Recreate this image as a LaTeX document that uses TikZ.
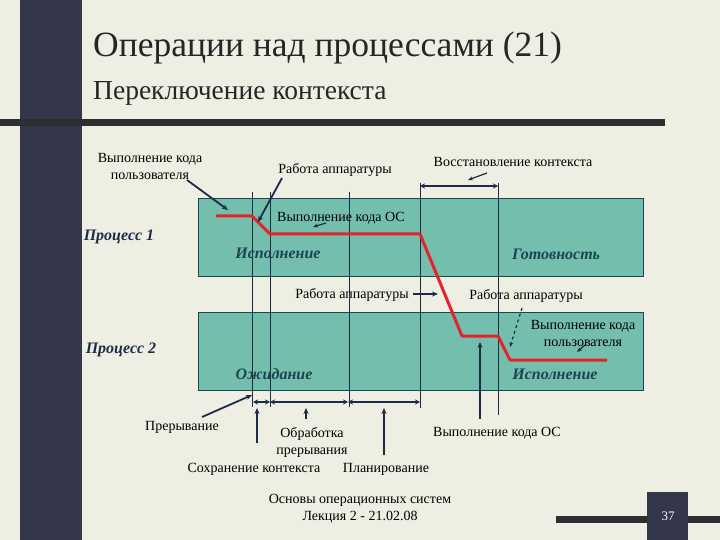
\documentclass[tikz,border=0pt]{standalone}
\usepackage{fontspec}
\setmainfont{Liberation Serif}
\usetikzlibrary{arrows.meta}
\definecolor{bg}{HTML}{EEEEE2}
\definecolor{barcol}{HTML}{34364C}
\definecolor{rulecol}{HTML}{2E2E30}
\definecolor{tealbox}{HTML}{74BEAE}
\definecolor{navy}{HTML}{1B2B48}
\definecolor{innertxt}{HTML}{1D4450}
\definecolor{redline}{HTML}{E3242B}
\begin{document}
\begin{tikzpicture}[x=1bp,y=-1bp,
  lbl/.style={font=\fontsize{14bp}{17bp}\selectfont, align=center, inner sep=0pt, text=black},
  proclbl/.style={font=\fontsize{16bp}{18bp}\selectfont\bfseries\itshape, text=navy, inner sep=0pt},
  statelbl/.style={font=\fontsize{16bp}{18bp}\selectfont\bfseries\itshape, text=innertxt, inner sep=0pt},
  procbox/.style={draw=innertxt, fill=tealbox, line width=0.8bp, minimum width=445bp, minimum height=78bp, anchor=north west, inner sep=0pt},
  vline/.style={draw=navy, line width=0.8bp},
  arr/.style={draw=navy, line width=1.8bp, -{Stealth[length=6bp,width=5bp]}},
  thinarr/.style={draw=navy, line width=1.2bp, -{Stealth[length=5bp,width=4bp]}},
  darr/.style={draw=navy, line width=2bp, {Stealth[length=5bp,width=5bp]}-{Stealth[length=5bp,width=5bp]}},
  redpath/.style={draw=redline, line width=3bp, line join=round}
]
\useasboundingbox (0,0) rectangle (720,540);
\fill[bg] (0,0) rectangle (720,540);
% decoration
\fill[barcol] (20,0) rectangle (82,540);
\fill[rulecol] (0,119) rectangle (665,126);
\fill[rulecol] (556,516) rectangle (720,523);
\fill[barcol] (647,492) rectangle (688,540);
\node[text=white, font=\fontsize{13bp}{15bp}\selectfont, inner sep=0pt] (num) at (668,516) {37};

% titles
\node[anchor=base west, inner sep=0pt, font=\fontsize{35.5bp}{40bp}\selectfont, text=black!85] (title) at (93,57) {Операции над процессами (21)};
\node[anchor=base west, inner sep=0pt, font=\fontsize{27.5bp}{30bp}\selectfont, text=black!85] (subtitle) at (93,100) {Переключение контекста};

% process boxes
\node[procbox] (box1) at (198,198) {};
\node[procbox] (box2) at (198,312) {};

% vertical lines
\coordinate (v1t) at (252,192); \coordinate (v1b) at (252,407);
\coordinate (v2t) at (270,192); \coordinate (v2b) at (270,407);
\coordinate (v3t) at (349,192); \coordinate (v3b) at (349,407);
\coordinate (v4t) at (420,183); \coordinate (v4b) at (420,408);
\coordinate (v5t) at (498,183); \coordinate (v5b) at (498,415);
\draw[vline] (v1t) -- (v1b);
\draw[vline] (v2t) -- (v2b);
\draw[vline] (v3t) -- (v3b);
\draw[vline] (v4t) -- (v4b);
\draw[vline] (v5t) -- (v5b);

% red path
\coordinate (r0) at (216,216);
\coordinate (r1) at (252,216);
\coordinate (r2) at (270,234);
\coordinate (r3) at (420,234);
\coordinate (r4) at (462,336);
\coordinate (r5) at (498,336);
\coordinate (r6) at (510,360);
\coordinate (r7) at (607,360);
\draw[redpath] (r0) -- (r1) -- (r2) -- (r3) -- (r4) -- (r5) -- (r6) -- (r7);

% labels
\node[lbl] (uc1) at (150,166) {Выполнение кода\\пользователя};
\node[lbl] (hw1) at (335,170) {Работа аппаратуры};
\node[lbl] (rc) at (513,162) {Восстановление контекста};
\node[lbl] (os1) at (341,218) {Выполнение кода ОС};
\node[proclbl] (p1) at (119,237) {Процесс 1};
\node[statelbl] (ex1) at (278,253) {Исполнение};
\node[statelbl] (rdy) at (556,254) {Готовность};
\node[lbl] (hw2) at (352,295) {Работа аппаратуры};
\node[lbl] (hw3) at (526,296) {Работа аппаратуры};
\node[lbl] (uc2) at (583,333) {Выполнение кода\\пользователя};
\node[proclbl] (p2) at (121,350) {Процесс 2};
\node[statelbl] (wt) at (274,374) {Ожидание};
\node[statelbl] (ex2) at (555,374) {Исполнение};
\node[lbl] (intr) at (182,427) {Прерывание};
\node[lbl] (hnd) at (312,442) {Обработка\\прерывания};
\node[lbl] (osb) at (497,433) {Выполнение кода ОС};
\node[lbl] (sv) at (254,469) {Сохранение контекста};
\node[lbl] (pl) at (386,469) {Планирование};
\node[lbl] (foot) at (360,508.5) {Основы операционных систем\\Лекция 2 - 21.02.08};

% arrow endpoints
\coordinate (a1s) at (187,180); \coordinate (a1e) at (228,210);
\coordinate (a2s) at (282,178); \coordinate (a2e) at (258,222);
\coordinate (a3s) at (487,173); \coordinate (a3e) at (468,180);
\coordinate (a4s) at (326,223); \coordinate (a4e) at (313,227);
\coordinate (a5s) at (413,294); \coordinate (a5e) at (438,294);
\coordinate (a6s) at (522,308); \coordinate (a6e) at (510,347);
\coordinate (a7s) at (585,345); \coordinate (a7e) at (577,352);
\coordinate (a8s) at (480,419); \coordinate (a8e) at (480,342);
\coordinate (a9s) at (202,417); \coordinate (a9e) at (252,395);
\coordinate (b1s) at (257,443); \coordinate (b1e) at (257,408);
\coordinate (b2s) at (306,419); \coordinate (b2e) at (306,408);
\coordinate (b3s) at (384,455); \coordinate (b3e) at (384,408);
\coordinate (d1) at (420,186); \coordinate (d2) at (498,186);
\coordinate (e1) at (253,402); \coordinate (e2) at (270,402);
\coordinate (e3) at (348,402); \coordinate (e4) at (420,402);

\draw[arr] (a1s) -- (a1e);
\draw[arr] (a2s) -- (a2e);
\draw[thinarr] (a3s) -- (a3e);
\draw[thinarr] (a4s) -- (a4e);
\draw[arr] (a5s) -- (a5e);
\draw[thinarr, dashed] (a6s) -- (a6e);
\draw[thinarr] (a7s) -- (a7e);
\draw[arr, line width=2.5bp] (a8s) -- (a8e);
\draw[arr] (a9s) -- (a9e);
\draw[arr, line width=2.5bp] (b1s) -- (b1e);
\draw[arr, line width=2.5bp] (b2s) -- (b2e);
\draw[arr, line width=2.5bp] (b3s) -- (b3e);
\draw[darr] (d1) -- (d2);
\draw[darr, line width=1.5bp] (e1) -- (e2);
\draw[darr] (e2) -- (e3);
\draw[darr] (e3) -- (e4);
\end{tikzpicture}
\end{document}
